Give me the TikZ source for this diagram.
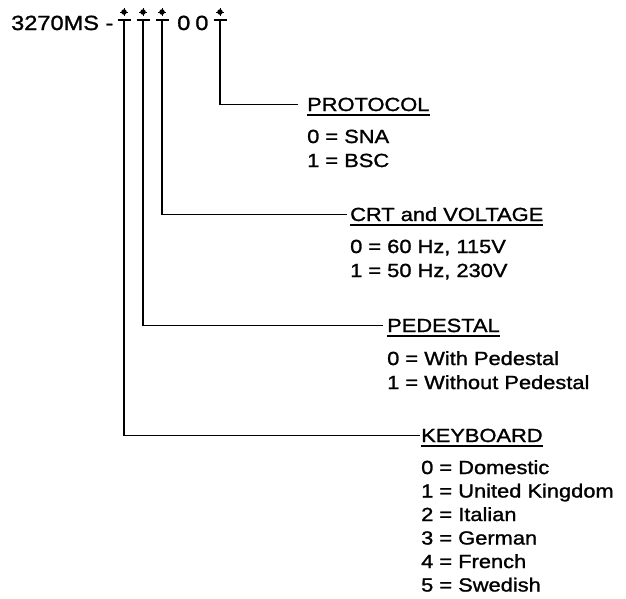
\documentclass[tikz,border=0pt]{standalone}
\usepackage{fontspec}
\setmainfont{Liberation Sans}[FakeStretch=1.15, FakeBold=1.3]
\usetikzlibrary{calc}
\tikzset{
  lbl/.style={inner sep=0pt, anchor=base west, font=\fontsize{19}{23}\selectfont},
  head/.style={lbl},
  conn/.style={line width=1.4pt, line cap=rect},
  starmark/.style={circle, fill=black, inner sep=0pt, minimum size=5.5pt},
}
\begin{document}
\begin{tikzpicture}[x=1pt, y=-1pt]
\useasboundingbox (0,0) rectangle (626,598);
% title
\node[lbl, font=\fontsize{20.5}{24}\selectfont] (title) at (11,30) {3270MS -};
\node[lbl, font=\fontsize{20.5}{24}\selectfont] (zeros) at (177,30) {0\kern5pt0};
% T marks with stars
\foreach \n/\x in {a/124, b/143, c/162, d/220}{
  \coordinate (t\n) at (\x,20);
  \coordinate (tl\n) at (\x-6.5,20);
  \coordinate (tr\n) at (\x+6.5,20);
  \node[starmark] (s\n) at (\x,12) {};
  \draw[line width=1.3pt] (tl\n) -- (tr\n);
  \draw[line width=0.8pt] ($(s\n)+(-4,0)$) -- ($(s\n)+(4,0)$);
  \draw[line width=0.8pt] ($(s\n)+(0,-4)$) -- ($(s\n)+(0,4)$);
}
% headings
\node[head] (proto) at (307,111) {PROTOCOL};
\node[head] (crt) at (350,221) {CRT and VOLTAGE};
\node[head] (ped) at (387,332) {PEDESTAL};
\node[head] (kb) at (421,442) {KEYBOARD};
\foreach \h in {proto,crt,ped,kb}{
  \draw[line width=1.1pt] ($(\h.base west)+(0,4)$) -- ($(\h.base east)+(0,4)$);
}
% items
\node[lbl] (p0) at (307,143) {0 = SNA};
\node[lbl] (p1) at (307,167) {1 = BSC};
\node[lbl] (c0) at (350,253) {0 = 60 Hz, 115V};
\node[lbl] (c1) at (350,277) {1 = 50 Hz, 230V};
\node[lbl] (e0) at (387,365) {0 = With Pedestal};
\node[lbl] (e1) at (387,389) {1 = Without Pedestal};
\node[lbl] (k0) at (421,474) {0 = Domestic};
\node[lbl] (k1) at (421,497.5) {1 = United Kingdom};
\node[lbl] (k2) at (421,521) {2 = Italian};
\node[lbl] (k3) at (421,544.5) {3 = German};
\node[lbl] (k4) at (421,568) {4 = French};
\node[lbl] (k5) at (421,591.5) {5 = Swedish};
% connectors
\draw[conn] (td) |- ($(proto.west)+(-10,0)$);
\draw[conn] (tc) |- ($(crt.west)+(-4,0)$);
\draw[conn] (tb) |- ($(ped.west)+(-5,0)$);
\draw[conn] (ta) |- ($(kb.west)+(-2,0)$);
\end{tikzpicture}
\end{document}
